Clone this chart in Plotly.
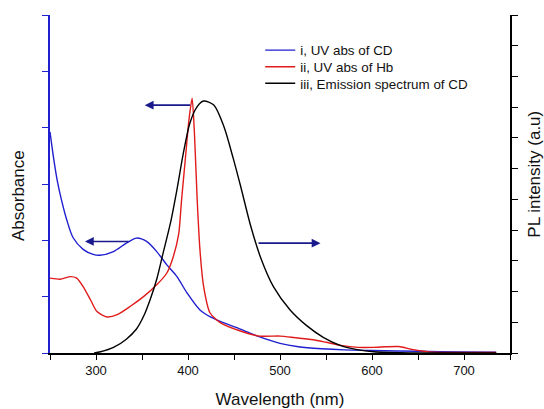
import plotly.graph_objects as go

# ---- data ----
cd_abs_wl = [250, 254, 258, 262, 268, 275, 286, 297, 304, 319, 333, 344, 355, 366, 377, 388, 399,
             413, 425, 435, 457, 478, 500, 520, 545, 570, 601, 650, 700, 735]
cd_abs = [0.785, 0.69, 0.61, 0.55, 0.475, 0.41, 0.368, 0.350, 0.347, 0.360, 0.390, 0.408, 0.396,
          0.360, 0.313, 0.271, 0.213, 0.153, 0.127, 0.112, 0.085, 0.057, 0.034, 0.022,
          0.015, 0.011, 0.009, 0.006, 0.004, 0.003]

hb_abs_wl = [250, 261, 272, 279, 286, 294, 301, 312, 323, 337, 352, 366, 377, 384, 390,
             393, 397, 401, 404.5, 407, 410, 413, 417, 424, 435, 457, 478, 500, 515, 536,
             550, 566, 585, 602, 615, 629, 645, 667, 700, 735]
hb_abs = [0.266, 0.262, 0.271, 0.266, 0.236, 0.189, 0.147, 0.128, 0.136, 0.165, 0.201,
          0.242, 0.284, 0.342, 0.425, 0.543, 0.685, 0.827, 0.905, 0.78, 0.543, 0.366,
          0.236, 0.142, 0.108, 0.078, 0.060, 0.060, 0.055, 0.047, 0.038, 0.027, 0.020,
          0.020, 0.022, 0.023, 0.012, 0.003, 0.002, 0.002]

pl_wl = [298, 305, 319, 333, 344, 352, 359, 366, 373, 381, 388, 395, 402, 410, 417, 428,
         439, 449, 457, 468, 479, 493, 511, 529, 547, 566, 584, 602, 630, 680, 735]
pl = [0.0, 0.004, 0.018, 0.045, 0.078, 0.121, 0.175, 0.240, 0.326, 0.424, 0.532, 0.651,
      0.748, 0.802, 0.820, 0.807, 0.737, 0.635, 0.545, 0.415, 0.310, 0.215, 0.140, 0.089,
      0.051, 0.024, 0.011, 0.004, 0.001, 0.0, 0.0]

x_ticks = list(range(250, 751, 50))
x_tick_text = [str(v) if v % 100 == 0 else "" for v in x_ticks]

names = ["i, UV abs of CD", "ii, UV abs of Hb", "iii, Emission spectrum of CD"]
colors = ["#1f1fd0", "#e01b1b", "#000000"]

FONT = "Liberation Sans, Arial, sans-serif"
TXT = "#111111"

fig = go.Figure()
fig.add_trace(go.Scatter(x=cd_abs_wl, y=cd_abs, name=names[0], mode="lines", legend="legend",
                         line=dict(color=colors[0], width=1.4, shape="spline", smoothing=0.8)))
fig.add_trace(go.Scatter(x=hb_abs_wl, y=hb_abs, name=names[1], mode="lines", legend="legend2",
                         line=dict(color=colors[1], width=1.4, shape="spline", smoothing=0.6)))
fig.add_trace(go.Scatter(x=pl_wl, y=pl, name=names[2], mode="lines", yaxis="y2", legend="legend3",
                         line=dict(color=colors[2], width=1.4, shape="spline", smoothing=0.8)))

arrow_color = "#1a1a8c"
arrows = [
    dict(head=(288, 0.396), tail=(337, 0.396)),
    dict(head=(353, 0.88), tail=(404, 0.88)),
    dict(head=(544, 0.39), tail=(475, 0.39)),
]
annotations = []
for a in arrows:
    annotations.append(dict(x=a["head"][0], y=a["head"][1], ax=a["tail"][0], ay=a["tail"][1],
                            xref="x", yref="y", axref="x", ayref="y", text="",
                            showarrow=True, arrowhead=2, arrowsize=1.1, arrowwidth=1.6,
                            arrowcolor=arrow_color))
annotations.append(dict(text="Absorbance", xref="paper", yref="paper", x=-0.067, y=0.465,
                        xanchor="center", yanchor="middle",
                        showarrow=False, textangle=-90, font=dict(size=17, color=TXT, family=FONT)))
annotations.append(dict(text="PL intensity (a.u)", xref="paper", yref="paper", x=1.054, y=0.53,
                        xanchor="center", yanchor="middle",
                        showarrow=False, textangle=-90, font=dict(size=17, color=TXT, family=FONT)))

leg_common = dict(x=0.457, xanchor="left", yanchor="top", bgcolor="rgba(0,0,0,0)",
                  font=dict(size=13.4, family=FONT, color=TXT))

fig.update_layout(
    width=544, height=409,
    margin=dict(l=50, r=34, t=15, b=56, autoexpand=False),
    paper_bgcolor="white", plot_bgcolor="white",
    font=dict(family=FONT, color=TXT),
    showlegend=True,
    legend=dict(y=0.941, **leg_common),
    legend2=dict(y=0.892, **leg_common),
    legend3=dict(y=0.843, **leg_common),
    xaxis=dict(range=[250, 750], tickvals=x_ticks, ticktext=x_tick_text, automargin=False,
               showgrid=False, zeroline=False, showline=True, linecolor="black", linewidth=1.5,
               ticks="outside", ticklen=5, tickcolor="black", tickwidth=1.2,
               tickfont=dict(size=13, family=FONT, color=TXT),
               title=dict(text="Wavelength (nm)", font=dict(size=17, family=FONT, color=TXT),
                          standoff=16)),
    yaxis=dict(range=[0, 1.2], dtick=0.2, tick0=0, showticklabels=False, automargin=False,
               showgrid=False, zeroline=False, showline=True, linecolor="#2020d0", linewidth=2,
               ticks="outside", ticklen=6, tickcolor="#2020d0", tickwidth=1.2),
    yaxis2=dict(range=[0, 1.1], dtick=0.1, tick0=0, showticklabels=False, overlaying="y", side="right",
                automargin=False,
                showgrid=False, zeroline=False, showline=True, linecolor="black", linewidth=1.5,
                ticks="outside", ticklen=6, tickcolor="black", tickwidth=1.2),
    annotations=annotations,
)

fig.write_html("out.html", config={"displayModeBar": False},
               post_script="document.body.style.margin='0';")
